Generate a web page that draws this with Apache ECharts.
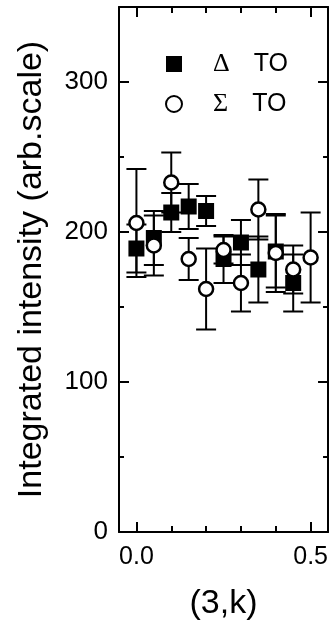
<!DOCTYPE html>
<html>
<head>
<meta charset="utf-8">
<script src="https://cdn.jsdelivr.net/npm/echarts@6/dist/echarts.min.js"></script>
<style>
  html, body { margin: 0; padding: 0; background: #fff; }
  #chart { width: 331px; height: 626px; }
</style>
</head>
<body>
<div id="chart"></div>
<script>
// Integrated intensity of the TO modes along (3,k)
const kDelta = [0.00, 0.05, 0.10, 0.15, 0.20, 0.25, 0.30, 0.35, 0.40, 0.45];
const intDelta = [189, 196, 213, 217, 214, 182, 193, 175, 187, 166];
const errDelta = [16, 18, 13, 15, 10, 16, 15, 22, 24, 19];

const kSigma = [0.00, 0.05, 0.10, 0.15, 0.20, 0.25, 0.30, 0.35, 0.40, 0.45, 0.50];
const intSigma = [206, 191, 233, 182, 162, 188, 166, 215, 186, 175, 183];
const errSigma = [36, 20, 20, 14, 27, 9, 19, 20, 26, 16, 30];

const xLabelValues = [0, 0.5];
const xMinorValues = [0.1, 0.2, 0.3, 0.4];
const yLabelValues = [0, 100, 200, 300];
const yMinorValues = [50, 150, 250];

const FONT = 'Liberation Sans';
const SERIF = 'Liberation Serif';

function points(ks, vals) { return ks.map((k, i) => [k, vals[i]]); }
function bars(ks, vals, errs) { return ks.map((k, i) => [k, vals[i] - errs[i], vals[i] + errs[i]]); }

function renderErrorBar(params, api) {
  const x = api.value(0);
  const lo = api.coord([x, api.value(1)]);
  const hi = api.coord([x, api.value(2)]);
  const hw = 10;
  const st = { stroke: '#000', lineWidth: 2 };
  return {
    type: 'group',
    children: [
      { type: 'line', shape: { x1: lo[0], y1: lo[1], x2: hi[0], y2: hi[1] }, style: st },
      { type: 'line', shape: { x1: lo[0] - hw, y1: lo[1], x2: lo[0] + hw, y2: lo[1] }, style: st },
      { type: 'line', shape: { x1: hi[0] - hw, y1: hi[1], x2: hi[0] + hw, y2: hi[1] }, style: st }
    ]
  };
}

function xAxisDef(pos, ticks, len, showLine, labels, name) {
  return {
    type: 'value', position: pos, min: -0.05, max: 0.55,
    name: name || '', nameLocation: 'middle', nameGap: 55,
    nameTextStyle: { fontFamily: FONT, fontSize: 34, color: '#000' },
    axisLine: { show: showLine, onZero: false, lineStyle: { color: '#000', width: 2 } },
    axisTick: { show: true, inside: true, length: len, customValues: ticks, lineStyle: { color: '#000', width: 2 } },
    axisLabel: labels ? { show: true, customValues: labels, margin: 13, fontFamily: FONT, fontSize: 25, color: '#000',
                          formatter: v => Number(v).toFixed(1) } : { show: false },
    splitLine: { show: false }
  };
}

function yAxisDef(pos, ticks, len, showLine, labels, name) {
  return {
    type: 'value', position: pos, min: 0, max: 350,
    name: name || '', nameLocation: 'middle', nameGap: 70,
    nameTextStyle: { fontFamily: FONT, fontSize: 34, color: '#000' },
    axisLine: { show: showLine, onZero: false, lineStyle: { color: '#000', width: 2 } },
    axisTick: { show: true, inside: true, length: len, customValues: ticks, lineStyle: { color: '#000', width: 2 } },
    axisLabel: labels ? { show: true, customValues: labels, margin: 11, fontFamily: FONT, fontSize: 26, color: '#000' } : { show: false },
    splitLine: { show: false }
  };
}

const chart = echarts.init(document.getElementById('chart'), null, { renderer: 'canvas' });

chart.setOption({
  animation: false,
  backgroundColor: '#fff',
  grid: { left: 119, right: 2, top: 7, bottom: 93, containLabel: false },
  xAxis: [
    xAxisDef('bottom', xLabelValues, 10, true, xLabelValues, '(3,k)'),
    xAxisDef('bottom', xMinorValues, 6, false, null),
    xAxisDef('top', xLabelValues, 10, true, null),
    xAxisDef('top', xMinorValues, 6, false, null)
  ],
  yAxis: [
    yAxisDef('left', yLabelValues, 10, true, yLabelValues, 'Integrated intensity (arb.scale)'),
    yAxisDef('left', yMinorValues, 5, false, null),
    yAxisDef('right', yLabelValues, 10, true, null),
    yAxisDef('right', yMinorValues, 5, false, null)
  ],
  legend: {
    orient: 'vertical', left: 165, top: 51, padding: 0,
    itemWidth: 16, itemHeight: 16, itemGap: 14,
    selectedMode: false,
    data: ['Δ TO', 'Σ TO'],
    formatter: name => {
      const [g, t] = name.split(' ');
      return '{g|' + g + '}{t|' + t + '}';
    },
    textStyle: {
      color: '#000', lineHeight: 26,
      rich: {
        g: { fontFamily: SERIF, fontSize: 26, color: '#000', padding: [0, 0, 0, 26] },
        t: { fontFamily: FONT, fontSize: 25, color: '#000', padding: [0, 0, 0, 24] }
      }
    }
  },
  series: [
    {
      name: 'Δ TO err', type: 'custom', renderItem: renderErrorBar,
      xAxisIndex: 0, yAxisIndex: 0, z: 2,
      encode: { x: 0, y: [1, 2] },
      data: bars(kDelta, intDelta, errDelta)
    },
    {
      name: 'Δ TO', type: 'scatter', xAxisIndex: 0, yAxisIndex: 0, z: 3,
      symbol: 'rect', symbolSize: 16,
      itemStyle: { color: '#000', opacity: 1 },
      data: points(kDelta, intDelta)
    },
    {
      name: 'Σ TO err', type: 'custom', renderItem: renderErrorBar,
      xAxisIndex: 0, yAxisIndex: 0, z: 4,
      encode: { x: 0, y: [1, 2] },
      data: bars(kSigma, intSigma, errSigma)
    },
    {
      name: 'Σ TO', type: 'scatter', xAxisIndex: 0, yAxisIndex: 0, z: 5,
      symbol: 'circle', symbolSize: 14,
      itemStyle: { color: '#fff', borderColor: '#000', borderWidth: 2.5, opacity: 1 },
      data: points(kSigma, intSigma)
    }
  ]
});
</script>
</body>
</html>
